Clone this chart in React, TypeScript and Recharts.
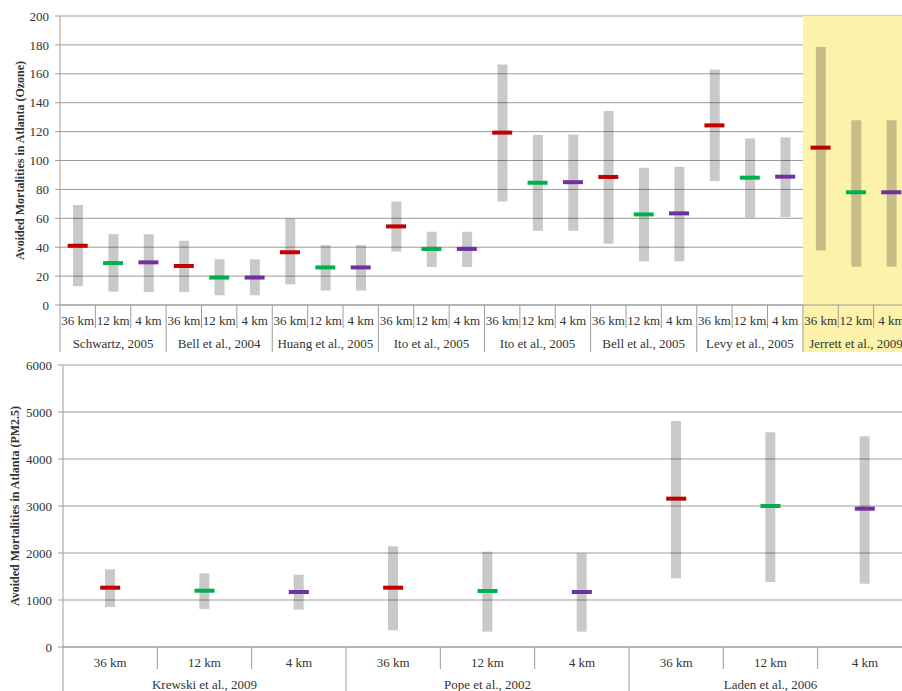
import React from 'react';
import { ComposedChart, Bar, Scatter, XAxis, YAxis, CartesianGrid, ReferenceArea, Label } from 'recharts';

// ---------- data ----------
const resolutions = ['36 km', '12 km', '4 km'];

const ozoneStudies = [
  'Schwartz, 2005',
  'Bell et al., 2004',
  'Huang et al., 2005',
  'Ito et al., 2005',
  'Ito et al., 2005',
  'Bell et al., 2005',
  'Levy et al., 2005',
  'Jerrett et al., 2009',
];
const ozoneLow = [13, 9.2, 9, 9, 6.7, 6.7, 14.3, 10, 10, 37, 26.3, 26.3, 71.7, 51.4, 51.4, 42.4, 30.2, 30.2, 85.8, 60.4, 60.9, 37.8, 26.5, 26.5];
const ozoneHigh = [69.2, 49, 49, 44.5, 31.6, 31.6, 60, 41.5, 41.5, 71.7, 50.7, 50.7, 166.5, 117.6, 118, 134.3, 95, 95.7, 163, 115.3, 116, 178.5, 127.8, 127.8];
const ozoneMean = [41, 29, 29.5, 27, 19, 19, 36.5, 26, 26, 54.4, 38.8, 38.8, 119.3, 84.6, 85, 88.6, 62.7, 63.4, 124.3, 88.1, 88.8, 108.9, 78, 78];
const ozoneYTicks = [0, 20, 40, 60, 80, 100, 120, 140, 160, 180, 200];

const pmStudies = ['Krewski et al., 2009', 'Pope et al., 2002', 'Laden et al., 2006'];
const pmLow = [851, 809, 795, 355, 326, 326, 1461, 1383, 1347];
const pmHigh = [1653, 1568, 1539, 2143, 2028, 1993, 4809, 4568, 4483];
const pmMean = [1262, 1198, 1170, 1262, 1192, 1170, 3156, 3000, 2943];
const pmYTicks = [0, 1000, 2000, 3000, 4000, 5000, 6000];

const markerColors = ['#C00000', '#00B050', '#7030A0'];

// ---------- helpers ----------
const FONT = '"Liberation Serif", "Times New Roman", serif';
const GRID = '#9c9c9c';
const TEXT = '#333333';

function buildRows(studies: string[], low: number[], high: number[], mean: number[]) {
  const rows: any[] = [];
  studies.forEach((s, g) =>
    resolutions.forEach((r, k) => {
      const i = g * 3 + k;
      rows.push({ id: `${g}-${k}`, study: s, res: r, group: g, resIdx: k, range: [low[i], high[i]], mean: mean[i] });
    })
  );
  return rows;
}

const ozoneRows = buildRows(ozoneStudies, ozoneLow, ozoneHigh, ozoneMean);
const pmRows = buildRows(pmStudies, pmLow, pmHigh, pmMean);

const MeanMarker = (p: any) => {
  const { cx, cy, payload } = p;
  if (cx == null || cy == null) return null;
  return <rect x={cx - 10} y={cy - 2} width={20} height={4} fill={markerColors[payload.resIdx]} />;
};

function makeTick(rows: any[], bandFallback: number, innerLen: number, groupLen: number, resDy: number, groupDy: number) {
  return (props: any) => {
    const { x, y, payload } = props;
    const index = props.index ?? payload?.index ?? 0;
    const row = rows[index];
    if (!row) return <g />;
    const half = payload && payload.offset > 0 ? payload.offset : bandFallback / 2;
    const isGroupStart = row.resIdx === 0;
    return (
      <g>
        <line x1={x - half} x2={x - half} y1={y} y2={y + (isGroupStart ? groupLen : innerLen)} stroke={GRID} strokeWidth={1} />
        <text x={x} y={y + resDy} textAnchor="middle" fontFamily={FONT} fontSize={13} fill={TEXT}>
          {row.res}
        </text>
        {row.resIdx === 1 && (
          <text x={x} y={y + groupDy} textAnchor="middle" fontFamily={FONT} fontSize={13} fill={TEXT}>
            {row.study}
          </text>
        )}
      </g>
    );
  };
}

function yTitle(text: string, xPos: number) {
  return (props: any) => {
    const vb = props.viewBox || { x: 0, y: 0, width: 0, height: 0 };
    const cy = vb.y + vb.height / 2;
    const cx = vb.x + xPos;
    return (
      <text
        x={cx}
        y={cy}
        transform={`rotate(-90 ${cx} ${cy})`}
        textAnchor="middle"
        dominantBaseline="central"
        fontFamily={FONT}
        fontWeight="bold"
        fontSize={12}
        fill={TEXT}
      >
        {text}
      </text>
    );
  };
}

const yTick = { fontFamily: FONT, fontSize: 13, fill: TEXT };

export default function App() {
  return (
    <div style={{ position: 'absolute', left: 0, top: 0, width: 902, height: 691, overflow: 'hidden', background: '#fff' }}>
      <div style={{ position: 'absolute', left: 0, top: 0 }}>
        <ComposedChart width={912} height={352} data={ozoneRows} margin={{ top: 16, right: 3, left: 0, bottom: 0 }}>
          <ReferenceArea x1="7-0" x2="7-2" y1={200} y2={-35} ifOverflow="visible" fill="#FCF2AA" fillOpacity={1} stroke="none" />
          <CartesianGrid vertical={false} stroke={GRID} strokeDasharray="" />
          <XAxis
            dataKey="id"
            type="category"
            interval={0}
            height={47}
            tickSize={0}
            tickMargin={0}
            tickLine={false}
            axisLine={{ stroke: GRID }}
            tick={makeTick(ozoneRows, 849 / 24, 23, 48, 20, 43)}
          />
          <YAxis
            domain={[0, 200]}
            ticks={ozoneYTicks}
            width={60}
            tickSize={5}
            tickMargin={6}
            tickLine={{ stroke: GRID }}
            axisLine={{ stroke: GRID }}
            tick={yTick}
            interval={0}
          >
            <Label content={yTitle('Avoided Mortalities in Atlanta (Ozone)', 20)} />
          </YAxis>
          <Bar dataKey="range" barSize={10} fill="#000000" fillOpacity={0.21} isAnimationActive={false} />
          <Scatter dataKey="mean" shape={MeanMarker} isAnimationActive={false} />
        </ComposedChart>
      </div>
      <div style={{ position: 'absolute', left: 0, top: 352 }}>
        <ComposedChart width={915} height={355} data={pmRows} margin={{ top: 13, right: 3, left: 0, bottom: 0 }}>
          <CartesianGrid vertical={false} stroke={GRID} strokeDasharray="" />
          <XAxis
            dataKey="id"
            type="category"
            interval={0}
            height={60}
            tickSize={0}
            tickMargin={0}
            tickLine={false}
            axisLine={{ stroke: GRID }}
            tick={makeTick(pmRows, 849 / 9, 22, 60, 20, 42)}
          />
          <YAxis
            domain={[0, 6000]}
            ticks={pmYTicks}
            width={63}
            tickSize={5}
            tickMargin={6}
            tickLine={{ stroke: GRID }}
            axisLine={{ stroke: GRID }}
            tick={yTick}
            interval={0}
          >
            <Label content={yTitle('Avoided Mortalities in Atlanta (PM2.5)', 15)} />
          </YAxis>
          <Bar dataKey="range" barSize={10} fill="#000000" fillOpacity={0.21} isAnimationActive={false} />
          <Scatter dataKey="mean" shape={MeanMarker} isAnimationActive={false} />
        </ComposedChart>
      </div>
    </div>
  );
}
